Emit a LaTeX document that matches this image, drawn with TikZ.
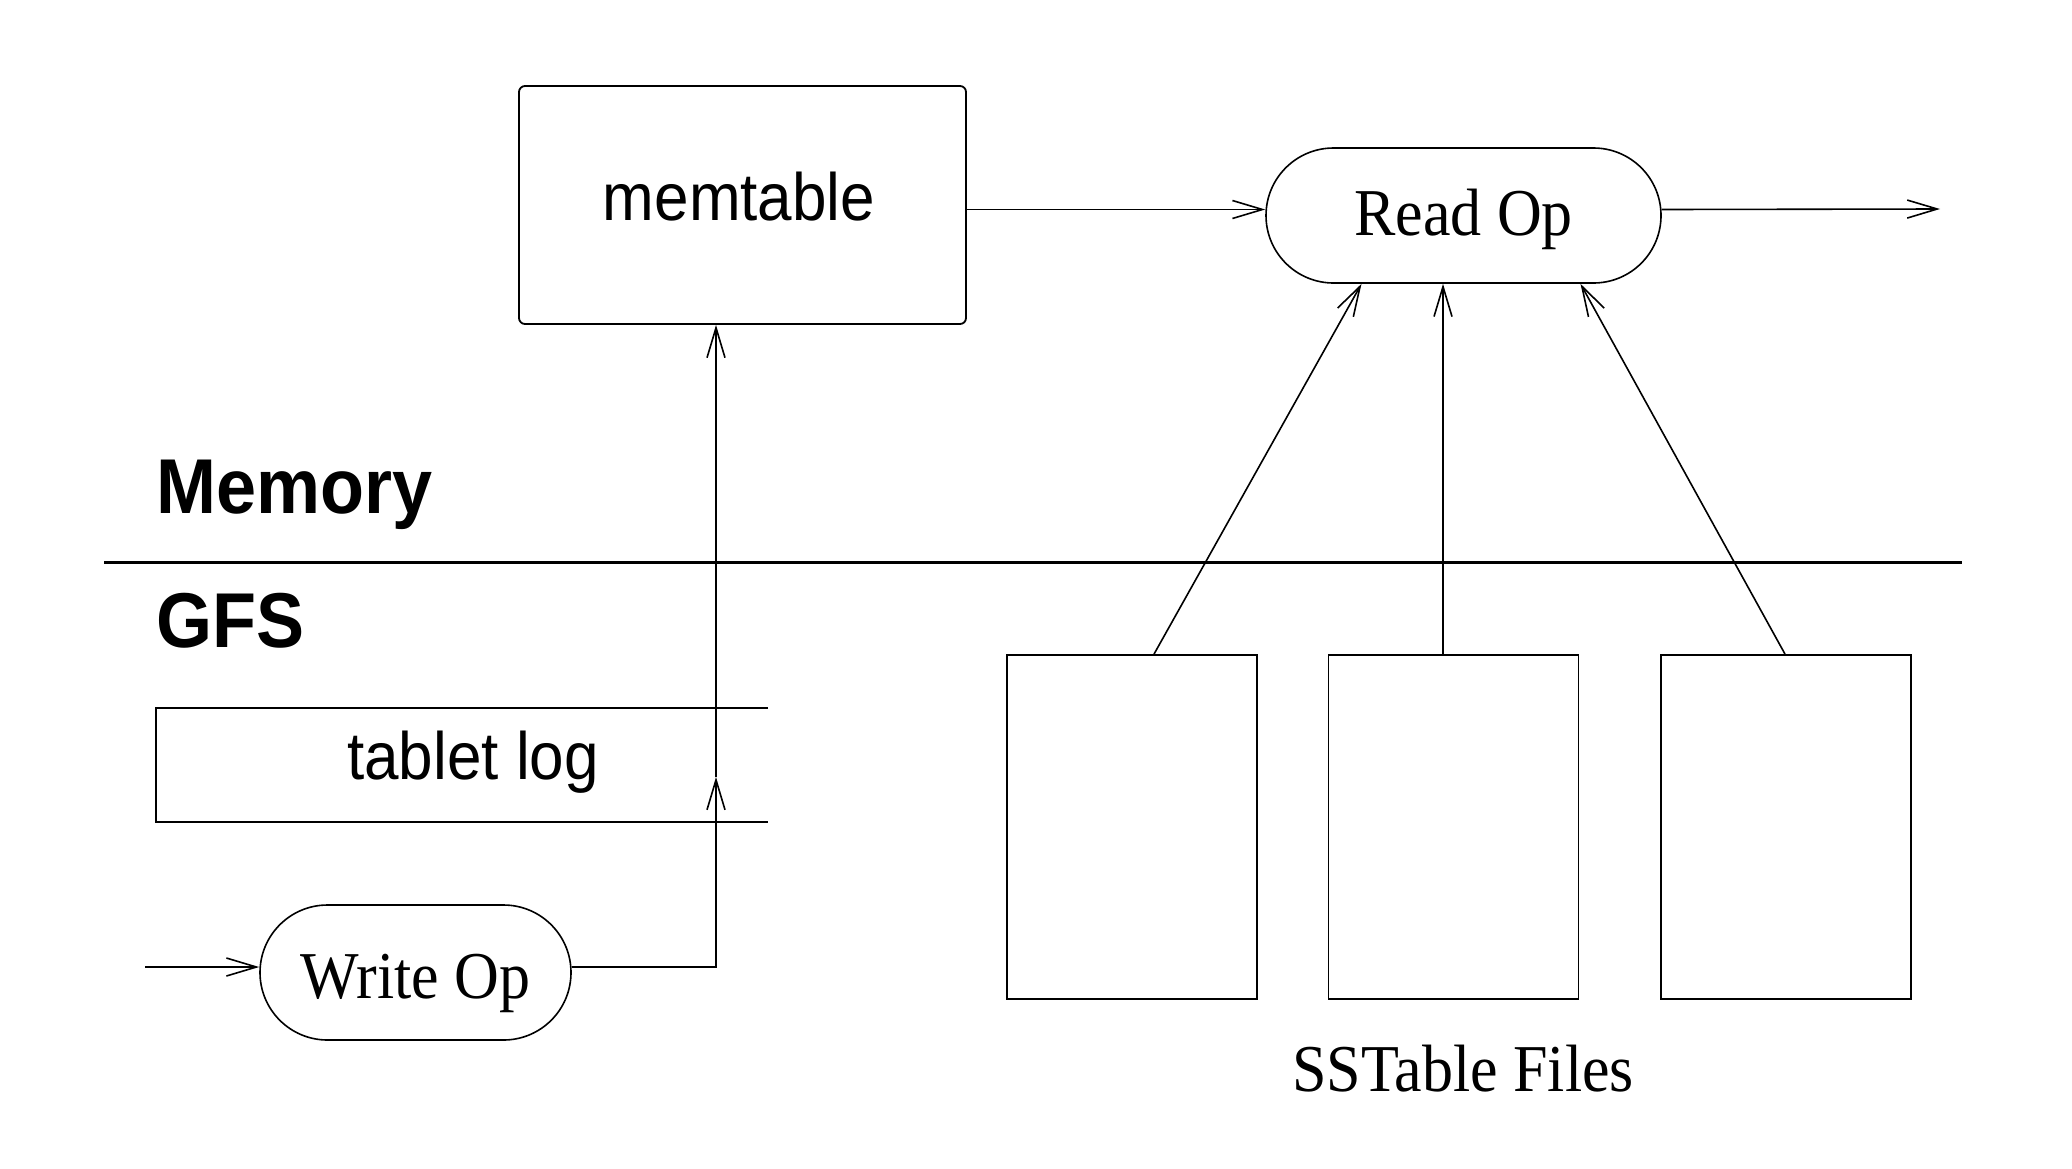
\documentclass[tikz,border=0pt]{standalone}
\usepackage{fontspec}
\setmainfont{Liberation Serif}
\setsansfont{Liberation Sans}
\usetikzlibrary{shapes.misc,arrows.meta,calc}
\newcommand{\tx}[1]{\scalebox{1}[1.08]{#1}}
\tikzset{
  lbl/.style={font=\sffamily\fontsize{62}{70}\selectfont, inner sep=0pt},
  big/.style={font=\sffamily\bfseries\fontsize{72}{80}\selectfont, inner sep=0pt},
  ser/.style={font=\rmfamily\fontsize{62}{70}\selectfont, inner sep=0pt},
  opnode/.style={draw, rounded rectangle, line width=1.6pt, inner sep=0pt},
  filebox/.style={draw, rectangle, line width=1.8pt, minimum width=250pt, minimum height=344pt, inner sep=0pt},
  conn/.style={line width=1.6pt},
  arr/.style={conn, -{Straight Barb[length=30pt,width=18pt,line width=1.6pt]}}
}
\begin{document}
\begin{tikzpicture}[x=1pt,y=-1pt]
\useasboundingbox[fill=white] (0,0) rectangle (2072,1168);

% memtable
\node[draw, rectangle, rounded corners=6pt, line width=1.8pt, minimum width=447pt, minimum height=238pt, inner sep=0pt] (memtable) at (742.5,205) {};
\node[lbl] (memtxt) at (739,197) {\tx{memtable}};

% Read Op
\node[opnode, minimum width=395pt, minimum height=135pt] (readop) at (1463.5,215.5) {};
\node[ser] (readtxt) at (1463.5,219) {\tx{Read Op}};

% Write Op
\node[opnode, minimum width=311pt, minimum height=135pt] (writeop) at (415.5,972.5) {};
\node[ser] (writetxt) at (415.5,983) {\tx{Write Op}};

% Memory / GFS
\node[big, anchor=base west] (mem) at (156,513) {\tx{Memory}};
\node[big, anchor=base west] (gfs) at (156,647) {\tx{GFS}};
\draw[line width=3pt] (104,562) -- (1962,562);

% tablet log
\draw[line width=1.8pt] (768,708) -- (156,708) -- (156,822) -- (768,822);
\node[lbl] (tlog) at (473,762) {\tx{tablet log}};

% SSTable files
\node[filebox] (s1) at (1132,827) {};
\node[filebox] (s2) at (1453.5,827) {};
\node[filebox] (s3) at (1786,827) {};
\node[ser, anchor=base] (sst) at (1463,1091) {\tx{SSTable Files}};

% connectors
\coordinate (out) at (1940,209);
\coordinate (win) at (145,967);
\coordinate (mid) at (716,777);

\draw[arr] ([yshift=6pt]readop.west -| memtable.east) -- ([yshift=6pt]readop.west);
\draw[arr] ([yshift=6pt]readop.east) -- (out);
\draw[arr] (win) -- ([yshift=5.5pt]writeop.west);
\draw[arr] ([yshift=5.5pt]writeop.east) -| (mid);
\draw[arr] (mid) -- (mid |- memtable.south);

\draw[arr] ([xshift=22pt]s1.north) -- ([xshift=-102pt]readop.south);
\draw[arr] ([xshift=-10.5pt]s2.north) -- ([xshift=-20.5pt]readop.south);
\draw[arr] ([xshift=-1pt]s3.north) -- ([xshift=117pt]readop.south);
\end{tikzpicture}
\end{document}
